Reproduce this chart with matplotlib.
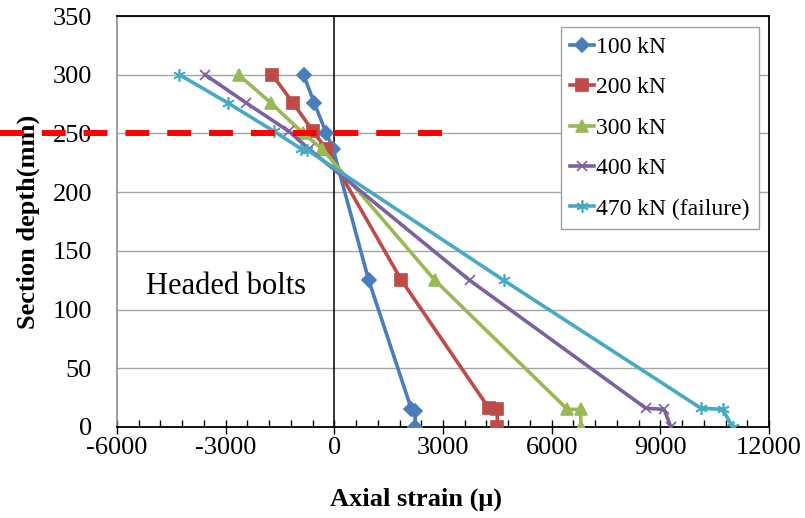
import numpy as np
from matplotlib import pyplot as plt
from matplotlib.ticker import MultipleLocator

plt.rcParams['font.family'] = ['Liberation Serif', 'DejaVu Serif']
plt.rcParams['axes.unicode_minus'] = False

# strain readings (micro strain) against section depth (mm)
depth_100 = [300, 276, 250, 237, 125, 15, 14, 0]
strain_100 = [-850, -553, -220, -36, 949, 2130, 2230, 2230]

depth_200 = [300, 276, 252, 237, 125, 16, 15, 0]
strain_200 = [-1714, -1142, -589, -230, 1853, 4267, 4498, 4498]

depth_300 = [300, 276, 250, 237, 125, 15, 15, 0]
strain_300 = [-2645, -1751, -857, -340, 2774, 6434, 6802, 6802]

depth_400 = [300, 276, 252, 237, 125, 16, 15, 0]
strain_400 = [-3567, -2433, -1264, -710, 3733, 8599, 9105, 9290]

depth_470 = [300, 276, 252, 237, 236, 125, 16, 15, 0]
strain_470 = [-4277, -2940, -1677, -921, -755, 4673, 10120, 10720, 10996]

labels = ['100 kN', '200 kN', '300 kN', '400 kN', '470 kN (failure)']
colors = ['#4A7EBB', '#BE4B48', '#98B954', '#7D60A0', '#46AAC5']
markers = ['D', 's', '^', 'x', (6, 2, 0)]
msizes = [7, 8, 8.5, 7.5, 9]

fig = plt.figure(figsize=(8.05, 5.18), dpi=100)
ax = fig.add_axes([0.1453, 0.1757, 0.81, 0.7934])

series = [(strain_100, depth_100), (strain_200, depth_200), (strain_300, depth_300),
          (strain_400, depth_400), (strain_470, depth_470)]
for (xs, ys), lab, c, m, ms in zip(series, labels, colors, markers, msizes):
    ax.plot(xs, ys, color=c, marker=m, markersize=ms, markeredgewidth=1.2,
            linewidth=2.6, label=lab, zorder=3)

ax.set_xlim(-6000, 12000)
ax.set_ylim(0, 350)
ax.xaxis.set_major_locator(MultipleLocator(3000))
ax.xaxis.set_minor_locator(MultipleLocator(600))
ax.yaxis.set_major_locator(MultipleLocator(50))
ax.grid(axis='y', color='#A6A6A6', linewidth=1.0, zorder=0)
ax.axvline(0, color='black', linewidth=1.1, zorder=2)

ax.tick_params(axis='x', which='major', direction='inout', length=10, width=1, labelsize=19, pad=2)
ax.tick_params(axis='x', which='minor', direction='in', length=5, width=1)
ax.tick_params(axis='y', length=0, labelsize=19, pad=18)

for s in ['top', 'right', 'bottom']:
    ax.spines[s].set_color('black')
    ax.spines[s].set_linewidth(1.3)
ax.spines['left'].set_color('#8C8C8C')
ax.spines['left'].set_linewidth(1.2)

ax.set_xlabel('Axial strain (μ)', fontsize=19, fontweight='bold')
ax.xaxis.set_label_coords(0.458, -0.148)
ax.set_ylabel('Section depth(mm)', fontsize=19, fontweight='bold')
ax.yaxis.set_label_coords(-0.118, 0.5)

ax.text(-2986, 120, 'Headed bolts', fontsize=22, ha='center', va='center')

# red dashed marker line at 250 mm
ax.plot([-9235, 3069], [250, 250], color='#FF0000', linewidth=4.3,
        dashes=(4, 3), clip_on=False, zorder=5)

leg = ax.legend(loc='upper right', bbox_to_anchor=(0.985, 0.973), borderaxespad=0,
                fontsize=17, fancybox=False, framealpha=1, edgecolor='#A0A0A0',
                handlelength=1.0, handletextpad=0.1, labelspacing=0.8,
                borderpad=0.4)
leg.get_frame().set_linewidth(1.0)

plt.savefig('out.png', dpi=100)
